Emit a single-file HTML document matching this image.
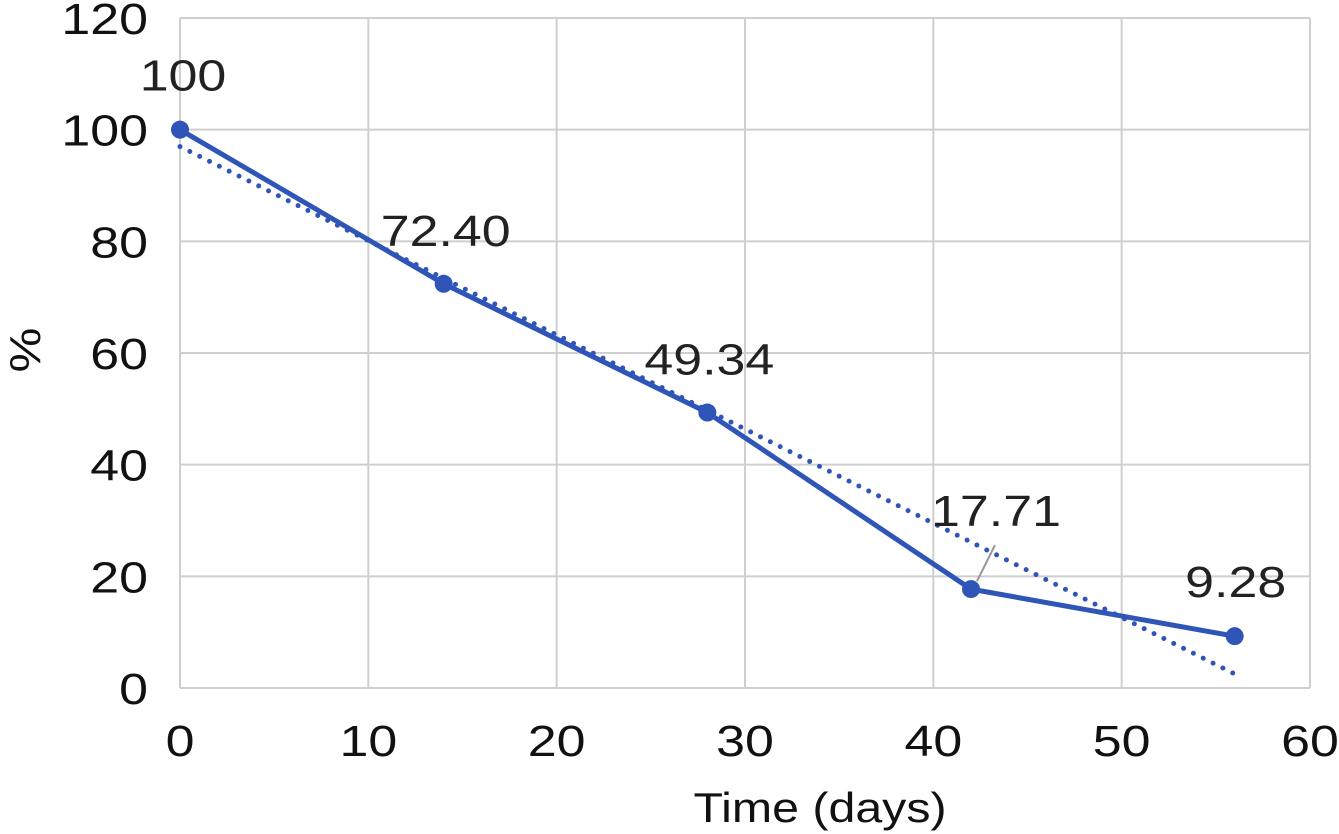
<!DOCTYPE html>
<html><head><meta charset="utf-8"><style>
html,body{margin:0;padding:0;background:#fff;}
svg{display:block;font-family:"Liberation Sans",sans-serif;}
</style></head><body>
<svg id="chart" width="1339" height="834">
<g id="grid"></g>
<g id="ticks"></g>
<g id="marks"></g>
<text transform="translate(40 350) rotate(-90) scale(1.15 1)" font-size="44" fill="#111" text-anchor="middle">%</text>
<text transform="translate(820 822) scale(1.15 1)" font-size="42" fill="#111" text-anchor="middle">Time (days)</text>
</svg>
<script>
const days = [0, 14, 28, 42, 56];
const percent = [100, 72.40, 49.34, 17.71, 9.28];
const valueLabels = ["100", "72.40", "49.34", "17.71", "9.28"];
const xTicks = [0, 10, 20, 30, 40, 50, 60];
const yTicks = [0, 20, 40, 60, 80, 100, 120];

const L=180,R=1310,T=18,B=688;
const X=v=>L+(v-0)/60*(R-L);
const Y=v=>B-(v/120)*(B-T);
const NS="http://www.w3.org/2000/svg";
const SX=1.18;
function mk(tag,attrs,parent){const e=document.createElementNS(NS,tag);for(const k in attrs)e.setAttribute(k,attrs[k]);parent.appendChild(e);return e;}
function txt(x,y,anchor,parent,content,fill){
  const e=mk('text',{transform:'translate('+x+' '+y+') scale('+SX+' 1)','font-size':44,fill:fill||'#111','text-anchor':anchor},parent);
  e.textContent=content;return e;
}
const grid=document.getElementById('grid'),ticks=document.getElementById('ticks'),marks=document.getElementById('marks');
xTicks.forEach(t=>{
  const l=mk('line',{x1:X(t),x2:X(t),y1:T,y2:B,stroke:'#cfcfcf','stroke-width':2},grid);
  
  
  const tx=txt(X(t),B+68,'middle',ticks,t);
  
  
});
yTicks.forEach(t=>{
  const l=mk('line',{x1:L,x2:R,y1:Y(t),y2:Y(t),stroke:'#cfcfcf','stroke-width':2},grid);
  
  
  const tx=txt(L-32,Y(t)+16,'end',ticks,t);
  
  
});
const n=days.length,mx=days.reduce((a,b)=>a+b)/n,my=percent.reduce((a,b)=>a+b)/n;
let sxy=0,sxx=0;days.forEach((d,i)=>{sxy+=(d-mx)*(percent[i]-my);sxx+=(d-mx)**2;});
const slope=sxy/sxx,icpt=my-slope*mx;
const x0=days[0],x1=days[n-1];
const tr=mk('line',{x1:X(x0),y1:Y(icpt+slope*x0),x2:X(x1),y2:Y(icpt+slope*x1),stroke:'#2f55b8','stroke-width':5,'stroke-dasharray':'0 11','stroke-linecap':'round'},marks);


const pl=mk('polyline',{points:days.map((d,i)=>X(d)+','+Y(percent[i])).join(' '),fill:'none',stroke:'#2f55b8','stroke-width':5,'stroke-linejoin':'round'},marks);


const offs=[[3,-39],[0,-38],[2,-38],[25,-63],[1,-39]];
days.forEach((d,i)=>{
  const c=mk('circle',{cx:X(d),cy:Y(percent[i]),r:9,fill:'#2f55b8'},marks);
  
  
  const tx=txt(X(d)+offs[i][0]+ (i==1?2:0),Y(percent[i])+offs[i][1],'middle',marks,valueLabels[i],'#222');
  
  
});
const ld=mk('line',{x1:X(days[3])+6,y1:Y(percent[3])-8,x2:X(days[3])+24,y2:Y(percent[3])-44,stroke:'#999','stroke-width':2},marks);


</script>
</body></html>
